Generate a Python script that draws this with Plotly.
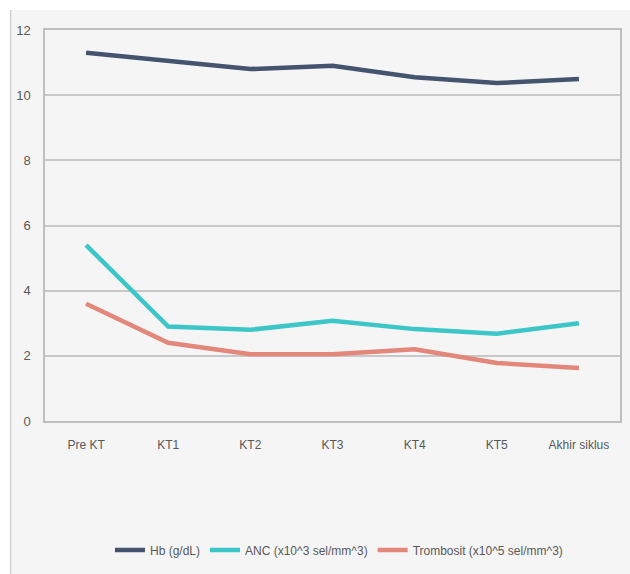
import plotly.graph_objects as go

categories = ["Pre KT", "KT1", "KT2", "KT3", "KT4", "KT5", "Akhir siklus"]
hb = [11.3, 11.05, 10.8, 10.9, 10.55, 10.37, 10.5]
anc = [5.4, 2.9, 2.8, 3.08, 2.82, 2.68, 3.0]
trombosit = [3.6, 2.4, 2.05, 2.05, 2.2, 1.78, 1.63]
y_ticks = [0, 2, 4, 6, 8, 10, 12]

W, H = 630, 574
L, R, T, B = 45, 8, 30, 153
pw, ph = W - L - R, H - T - B

def px_x(p):
    return (p - L) / pw

def px_y(p):
    return (H - B - p) / ph

font = "Liberation Sans, Arial"

fig = go.Figure()
fig.add_trace(go.Scatter(x=categories, y=hb, mode="lines", name="Hb (g/dL)",
                         line=dict(color="#44546e", width=4.5)))
fig.add_trace(go.Scatter(x=categories, y=anc, mode="lines", name="ANC (x10^3 sel/mm^3)",
                         line=dict(color="#3cc6c8", width=4.5)))
fig.add_trace(go.Scatter(x=categories, y=trombosit, mode="lines", name="Trombosit (x10^5 sel/mm^3)",
                         line=dict(color="#e3877b", width=4.5)))

fig.update_layout(
    width=W, height=H,
    margin=dict(l=L, r=R, t=T, b=B),
    paper_bgcolor="white",
    plot_bgcolor="#f5f5f5",
    font=dict(family=font, size=12, color="#595959"),
    showlegend=True,
    legend=dict(orientation="h", x=px_x(340), xanchor="center", y=px_y(550), yanchor="middle",
                font=dict(size=12, color="#595959"), bgcolor="rgba(0,0,0,0)",
                itemwidth=30, tracegroupgap=0),
    shapes=[
        dict(type="rect", xref="paper", yref="paper",
             x0=px_x(10), x1=px_x(632), y0=px_y(576), y1=px_y(10),
             fillcolor="#f5f5f5", line=dict(width=0), layer="below"),
        dict(type="line", xref="paper", yref="paper",
             x0=px_x(10.5), x1=px_x(10.5), y0=px_y(576), y1=px_y(10),
             line=dict(color="#d0d0d0", width=1.5), layer="below"),
    ],
)
fig.update_xaxes(type="category", range=[-0.5, 6.5], showgrid=False, showline=True,
                 linecolor="#bfbfbf", linewidth=1.5, mirror=True, ticks="",
                 ticklabelstandoff=12, tickfont=dict(size=12, color="#595959"))
fig.update_yaxes(range=[0, 12], tickvals=y_ticks, showgrid=True, gridcolor="#c8c8c8", gridwidth=1.5,
                 showline=True, linecolor="#bfbfbf", linewidth=1.5, mirror=True, zeroline=False,
                 ticks="", ticklabelstandoff=10, tickfont=dict(size=13, color="#595959"))

fig.write_html("out.html")
